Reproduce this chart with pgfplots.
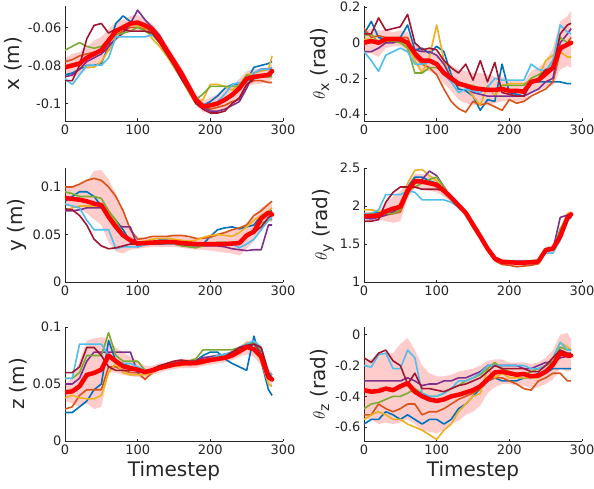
\documentclass[border=0pt]{standalone}
\usepackage{fontspec}
\setmainfont{DejaVu Sans}
\usepackage{pgfplots}
\pgfplotsset{compat=1.18}
\usepackage{pgfplotstable}
\usepgfplotslibrary{fillbetween}
\definecolor{mb}{rgb}{0,0.447,0.741}
\definecolor{mo}{rgb}{0.850,0.325,0.098}
\definecolor{my}{rgb}{0.929,0.694,0.125}
\definecolor{mp}{rgb}{0.494,0.184,0.556}
\definecolor{mg}{rgb}{0.466,0.674,0.188}
\definecolor{ml}{rgb}{0.301,0.745,0.933}
\definecolor{mr}{rgb}{0.635,0.078,0.184}
\definecolor{axgray}{rgb}{0.15,0.15,0.15}

% x (m)
\pgfplotstableread{
t b o y p g l r m lo hi
0 -0.085 -0.078 -0.080 -0.086 -0.072 -0.087 -0.088 -0.081 -0.086 -0.076
10 -0.084 -0.077 -0.080 -0.085 -0.070 -0.090 -0.088 -0.080 -0.086 -0.074
20 -0.082 -0.075 -0.080 -0.082 -0.068 -0.085 -0.080 -0.079 -0.085 -0.073
30 -0.080 -0.074 -0.081 -0.078 -0.070 -0.080 -0.066 -0.076 -0.082 -0.070
40 -0.080 -0.073 -0.081 -0.076 -0.071 -0.080 -0.059 -0.074 -0.081 -0.067
50 -0.079 -0.073 -0.078 -0.074 -0.070 -0.080 -0.058 -0.072 -0.079 -0.065
60 -0.070 -0.072 -0.072 -0.070 -0.066 -0.076 -0.063 -0.067 -0.073 -0.061
70 -0.058 -0.064 -0.063 -0.066 -0.064 -0.065 -0.061 -0.062 -0.067 -0.057
80 -0.054 -0.062 -0.061 -0.063 -0.063 -0.065 -0.061 -0.060 -0.064 -0.056
90 -0.057 -0.060 -0.059 -0.058 -0.062 -0.065 -0.062 -0.058 -0.062 -0.054
100 -0.058 -0.060 -0.059 -0.051 -0.060 -0.065 -0.062 -0.0575 -0.0615 -0.0535
110 -0.060 -0.061 -0.060 -0.056 -0.062 -0.065 -0.062 -0.059 -0.062 -0.056
120 -0.062 -0.063 -0.066 -0.060 -0.064 -0.064 -0.063 -0.061 -0.064 -0.058
130 -0.066 -0.067 -0.070 -0.064 -0.068 -0.067 -0.068 -0.066 -0.069 -0.063
140 -0.072 -0.073 -0.075 -0.071 -0.074 -0.073 -0.074 -0.072 -0.075 -0.069
150 -0.080 -0.079 -0.081 -0.077 -0.080 -0.079 -0.080 -0.078 -0.081 -0.075
160 -0.086 -0.085 -0.087 -0.084 -0.086 -0.086 -0.087 -0.084 -0.087 -0.081
170 -0.093 -0.092 -0.094 -0.090 -0.092 -0.093 -0.093 -0.091 -0.094 -0.088
180 -0.099 -0.099 -0.100 -0.097 -0.098 -0.099 -0.100 -0.098 -0.101 -0.095
190 -0.101 -0.102 -0.098 -0.102 -0.095 -0.100 -0.103 -0.1015 -0.1045 -0.0985
200 -0.099 -0.103 -0.090 -0.104 -0.091 -0.101 -0.105 -0.101 -0.105 -0.097
210 -0.096 -0.102 -0.090 -0.104 -0.091 -0.099 -0.105 -0.100 -0.105 -0.095
220 -0.092 -0.101 -0.091 -0.103 -0.091 -0.095 -0.104 -0.098 -0.103 -0.093
230 -0.090 -0.099 -0.093 -0.101 -0.091 -0.090 -0.100 -0.0955 -0.1005 -0.0905
240 -0.090 -0.098 -0.090 -0.099 -0.091 -0.089 -0.097 -0.092 -0.097 -0.087
250 -0.088 -0.090 -0.085 -0.092 -0.085 -0.089 -0.090 -0.087 -0.091 -0.083
260 -0.081 -0.088 -0.084 -0.084 -0.086 -0.084 -0.087 -0.086 -0.090 -0.082
270 -0.080 -0.088 -0.083 -0.082 -0.086 -0.082 -0.086 -0.0855 -0.0895 -0.0815
280 -0.079 -0.089 -0.082 -0.082 -0.086 -0.082 -0.085 -0.085 -0.089 -0.081
285 -0.078 -0.089 -0.075 -0.082 -0.086 -0.081 -0.085 -0.083 -0.087 -0.079
}\tA

% theta_x (rad)
\pgfplotstableread{
t b o y p g l r m lo hi
0 0.05 0.08 0.02 -0.05 0.04 -0.05 0.05 0.00 -0.06 0.06
10 0.12 0.03 0.02 -0.05 0.05 -0.10 0.05 0.01 -0.06 0.08
20 0.03 0.04 0.00 -0.03 0.00 -0.16 0.14 0.00 -0.08 0.07
30 0.02 0.03 0.00 0.00 0.01 -0.07 0.07 0.02 -0.03 0.07
40 0.02 0.03 0.01 0.00 0.01 -0.05 0.08 0.02 -0.02 0.06
50 0.03 0.03 0.00 0.01 0.00 -0.03 0.09 0.02 -0.02 0.07
60 0.10 0.03 -0.02 0.00 -0.03 -0.05 0.16 0.00 -0.05 0.06
70 -0.04 -0.08 -0.10 -0.04 -0.17 -0.12 0.00 -0.06 -0.12 0.00
80 -0.03 -0.12 -0.17 -0.05 -0.17 -0.12 -0.04 -0.10 -0.16 -0.04
90 -0.06 -0.14 -0.08 -0.05 -0.14 -0.11 -0.03 -0.10 -0.16 -0.03
100 -0.02 -0.18 0.10 -0.07 -0.14 -0.12 -0.04 -0.12 -0.18 -0.06
110 -0.05 -0.26 -0.10 -0.12 -0.16 -0.18 -0.10 -0.17 -0.23 -0.10
120 -0.18 -0.33 -0.20 -0.20 -0.20 -0.22 -0.14 -0.20 -0.27 -0.13
130 -0.26 -0.37 -0.22 -0.22 -0.24 -0.28 -0.17 -0.23 -0.32 -0.15
140 -0.27 -0.39 -0.25 -0.25 -0.24 -0.26 -0.12 -0.24 -0.34 -0.16
150 -0.30 -0.33 -0.30 -0.28 -0.24 -0.27 -0.21 -0.255 -0.35 -0.17
160 -0.38 -0.35 -0.35 -0.29 -0.26 -0.28 -0.10 -0.26 -0.35 -0.17
170 -0.32 -0.34 -0.24 -0.30 -0.26 -0.25 -0.22 -0.265 -0.35 -0.18
180 -0.33 -0.36 -0.30 -0.30 -0.27 -0.20 -0.11 -0.265 -0.34 -0.19
190 -0.12 -0.38 -0.24 -0.30 -0.24 -0.21 -0.28 -0.26 -0.33 -0.19
200 -0.28 -0.32 -0.23 -0.30 -0.24 -0.21 -0.29 -0.27 -0.33 -0.21
210 -0.29 -0.34 -0.23 -0.30 -0.24 -0.21 -0.30 -0.27 -0.33 -0.21
220 -0.30 -0.33 -0.23 -0.30 -0.24 -0.21 -0.30 -0.275 -0.33 -0.22
230 -0.22 -0.30 -0.22 -0.28 -0.20 -0.12 -0.22 -0.22 -0.28 -0.16
240 -0.22 -0.28 -0.20 -0.26 -0.18 -0.15 -0.20 -0.21 -0.27 -0.14
250 -0.22 -0.26 -0.10 -0.22 -0.16 -0.16 -0.15 -0.175 -0.25 -0.10
260 -0.22 -0.22 -0.07 -0.20 -0.10 -0.10 -0.15 -0.14 -0.24 -0.03
270 -0.22 -0.05 -0.05 0.00 0.03 0.10 0.05 -0.03 -0.15 0.12
280 -0.23 0.00 -0.08 0.05 0.00 0.06 0.10 -0.01 -0.13 0.15
285 -0.23 0.03 -0.08 0.08 0.00 0.05 0.11 0.00 -0.14 0.18
}\tB

% y (m)
\pgfplotstableread{
t b o y p g l r m lo hi
0 0.085 0.100 0.075 0.075 0.095 0.082 0.077 0.0884 0.080 0.100
10 0.090 0.100 0.078 0.075 0.093 0.080 0.076 0.0875 0.079 0.101
20 0.095 0.103 0.080 0.076 0.090 0.078 0.070 0.0866 0.077 0.102
30 0.095 0.107 0.080 0.078 0.090 0.065 0.060 0.085 0.072 0.106
40 0.090 0.109 0.080 0.078 0.090 0.055 0.045 0.0825 0.066 0.117
50 0.080 0.107 0.080 0.078 0.088 0.055 0.038 0.081 0.060 0.118
60 0.070 0.100 0.075 0.070 0.075 0.055 0.035 0.0686 0.042 0.108
70 0.065 0.090 0.062 0.060 0.065 0.035 0.036 0.058 0.032 0.093
80 0.055 0.075 0.050 0.058 0.050 0.037 0.038 0.049 0.030 0.072
90 0.042 0.055 0.044 0.058 0.042 0.037 0.040 0.044 0.034 0.056
100 0.040 0.045 0.042 0.037 0.040 0.037 0.040 0.0405 0.035 0.047
110 0.042 0.046 0.043 0.040 0.042 0.039 0.040 0.041 0.036 0.047
120 0.042 0.048 0.045 0.040 0.042 0.040 0.040 0.0415 0.037 0.047
130 0.044 0.048 0.046 0.040 0.041 0.041 0.041 0.042 0.037 0.048
140 0.044 0.048 0.046 0.040 0.040 0.040 0.041 0.042 0.037 0.048
150 0.043 0.049 0.045 0.040 0.040 0.040 0.041 0.042 0.037 0.049
160 0.042 0.049 0.044 0.039 0.038 0.041 0.040 0.041 0.036 0.048
170 0.041 0.048 0.043 0.038 0.037 0.041 0.039 0.0405 0.035 0.047
180 0.040 0.046 0.044 0.038 0.036 0.040 0.039 0.040 0.034 0.046
190 0.040 0.046 0.047 0.038 0.038 0.040 0.039 0.040 0.034 0.047
200 0.048 0.047 0.049 0.038 0.040 0.040 0.039 0.040 0.033 0.049
210 0.055 0.050 0.050 0.038 0.042 0.039 0.040 0.040 0.032 0.051
220 0.057 0.052 0.049 0.037 0.042 0.040 0.040 0.040 0.031 0.053
230 0.058 0.055 0.048 0.035 0.040 0.040 0.041 0.0405 0.030 0.055
240 0.056 0.057 0.052 0.034 0.042 0.036 0.042 0.041 0.028 0.056
250 0.058 0.060 0.058 0.033 0.048 0.040 0.050 0.049 0.035 0.062
260 0.060 0.070 0.065 0.034 0.055 0.045 0.052 0.053 0.043 0.068
270 0.070 0.075 0.070 0.034 0.062 0.055 0.058 0.067 0.055 0.078
280 0.074 0.082 0.075 0.060 0.065 0.065 0.068 0.073 0.064 0.083
285 0.075 0.085 0.078 0.060 0.066 0.068 0.070 0.071 0.063 0.082
}\tC

% theta_y (rad)
\pgfplotstableread{
t b o y p g l r m lo hi
0 1.88 1.85 1.95 1.84 1.90 1.90 1.80 1.866 1.82 1.92
10 1.90 1.85 1.95 1.83 1.90 1.90 1.80 1.87 1.82 1.92
20 1.92 1.86 1.93 1.85 1.90 1.95 1.82 1.875 1.82 1.94
30 1.92 1.88 1.92 1.88 1.90 2.15 2.05 1.93 1.80 2.05
40 1.93 1.90 1.92 1.92 1.90 2.15 2.18 1.965 1.78 2.12
50 1.95 1.92 1.95 1.98 1.95 2.15 2.25 1.99 1.80 2.20
60 2.25 2.15 2.30 2.22 2.20 2.20 2.25 2.20 2.10 2.30
70 2.38 2.30 2.47 2.30 2.25 2.18 2.25 2.33 2.24 2.42
80 2.38 2.32 2.48 2.35 2.30 2.08 2.22 2.32 2.22 2.42
90 2.33 2.30 2.40 2.46 2.35 2.08 2.22 2.30 2.20 2.40
100 2.30 2.25 2.33 2.40 2.38 2.08 2.22 2.28 2.18 2.38
110 2.22 2.18 2.22 2.25 2.25 2.08 2.20 2.20 2.12 2.28
120 2.12 2.12 2.12 2.10 2.10 2.05 2.10 2.11 2.06 2.16
130 2.02 2.02 2.02 2.00 2.01 1.98 2.00 2.01 1.97 2.05
140 1.93 1.92 1.92 1.90 1.92 1.90 1.90 1.91 1.87 1.95
150 1.75 1.74 1.75 1.75 1.75 1.72 1.72 1.755 1.72 1.79
160 1.62 1.58 1.60 1.60 1.60 1.58 1.58 1.60 1.56 1.64
170 1.45 1.42 1.44 1.44 1.44 1.45 1.43 1.44 1.40 1.48
180 1.32 1.28 1.31 1.31 1.30 1.32 1.30 1.31 1.28 1.34
190 1.28 1.23 1.26 1.26 1.25 1.28 1.25 1.265 1.23 1.30
200 1.27 1.22 1.25 1.26 1.25 1.28 1.25 1.26 1.22 1.29
210 1.27 1.20 1.26 1.25 1.26 1.28 1.24 1.255 1.20 1.29
220 1.27 1.21 1.26 1.25 1.26 1.28 1.24 1.255 1.21 1.29
230 1.27 1.22 1.26 1.26 1.26 1.28 1.25 1.26 1.22 1.29
240 1.28 1.24 1.27 1.27 1.27 1.28 1.26 1.27 1.23 1.30
250 1.44 1.40 1.40 1.42 1.40 1.38 1.40 1.42 1.37 1.46
260 1.43 1.45 1.45 1.42 1.42 1.38 1.44 1.44 1.39 1.48
270 1.62 1.62 1.68 1.85 1.70 1.55 1.60 1.60 1.52 1.68
280 1.88 1.82 1.90 1.88 1.85 1.80 1.82 1.845 1.79 1.90
285 1.90 1.85 1.92 1.90 1.88 1.85 1.86 1.89 1.84 1.94
}\tD

% z (m)
\pgfplotstableread{
t b o y p g l r m lo hi
0 0.025 0.028 0.038 0.050 0.055 0.055 0.060 0.0427 0.035 0.050
10 0.025 0.030 0.040 0.050 0.055 0.055 0.060 0.0435 0.033 0.055
20 0.030 0.040 0.038 0.055 0.060 0.085 0.065 0.048 0.030 0.070
30 0.035 0.045 0.037 0.070 0.075 0.085 0.082 0.058 0.033 0.088
40 0.045 0.045 0.037 0.078 0.075 0.085 0.082 0.0597 0.028 0.090
50 0.050 0.045 0.040 0.078 0.075 0.085 0.075 0.0626 0.030 0.091
60 0.088 0.065 0.060 0.078 0.095 0.075 0.065 0.075 0.060 0.090
70 0.070 0.065 0.068 0.078 0.075 0.070 0.062 0.070 0.060 0.082
80 0.068 0.062 0.060 0.078 0.070 0.068 0.062 0.0655 0.058 0.078
90 0.065 0.060 0.058 0.078 0.070 0.068 0.062 0.064 0.057 0.074
100 0.062 0.060 0.058 0.060 0.070 0.065 0.062 0.0625 0.056 0.070
110 0.060 0.054 0.058 0.062 0.062 0.062 0.060 0.0605 0.055 0.066
120 0.062 0.060 0.060 0.062 0.063 0.062 0.063 0.062 0.058 0.066
130 0.066 0.063 0.064 0.064 0.066 0.064 0.066 0.064 0.060 0.068
140 0.067 0.065 0.065 0.066 0.067 0.066 0.068 0.0655 0.062 0.069
150 0.068 0.066 0.066 0.068 0.068 0.068 0.070 0.067 0.063 0.071
160 0.068 0.068 0.066 0.070 0.069 0.069 0.071 0.068 0.064 0.072
170 0.069 0.068 0.068 0.070 0.070 0.069 0.070 0.068 0.064 0.072
180 0.070 0.067 0.070 0.071 0.072 0.070 0.070 0.0685 0.064 0.073
190 0.075 0.068 0.072 0.073 0.080 0.070 0.071 0.070 0.066 0.074
200 0.078 0.070 0.073 0.074 0.080 0.072 0.072 0.071 0.067 0.075
210 0.078 0.072 0.074 0.075 0.080 0.075 0.073 0.072 0.068 0.076
220 0.072 0.074 0.075 0.076 0.080 0.076 0.074 0.073 0.069 0.077
230 0.068 0.078 0.077 0.078 0.080 0.078 0.078 0.075 0.071 0.079
240 0.065 0.082 0.080 0.080 0.082 0.082 0.082 0.0785 0.074 0.083
250 0.062 0.085 0.086 0.083 0.084 0.085 0.084 0.0825 0.076 0.088
260 0.092 0.085 0.085 0.085 0.086 0.088 0.085 0.0805 0.074 0.088
270 0.070 0.075 0.070 0.078 0.080 0.082 0.082 0.074 0.066 0.084
280 0.045 0.055 0.050 0.060 0.058 0.060 0.060 0.056 0.048 0.063
285 0.040 0.055 0.048 0.058 0.056 0.058 0.055 0.054 0.047 0.060
}\tE

% theta_z (rad)
\pgfplotstableread{
t b o y p g l r m lo hi
0 -0.58 -0.52 -0.55 -0.30 -0.48 -0.20 -0.15 -0.36 -0.55 -0.17
10 -0.55 -0.52 -0.52 -0.30 -0.45 -0.21 -0.18 -0.37 -0.55 -0.16
20 -0.55 -0.45 -0.50 -0.30 -0.44 -0.13 -0.12 -0.365 -0.58 -0.13
30 -0.50 -0.48 -0.52 -0.30 -0.42 -0.12 -0.10 -0.35 -0.57 -0.12
40 -0.52 -0.50 -0.55 -0.30 -0.40 -0.22 -0.17 -0.36 -0.58 -0.12
50 -0.55 -0.48 -0.55 -0.30 -0.40 -0.22 -0.20 -0.335 -0.57 -0.06
60 -0.52 -0.45 -0.58 -0.28 -0.38 -0.10 -0.32 -0.315 -0.55 -0.02
70 -0.55 -0.45 -0.60 -0.30 -0.35 -0.15 -0.25 -0.37 -0.58 -0.10
80 -0.58 -0.52 -0.62 -0.33 -0.38 -0.38 -0.35 -0.40 -0.62 -0.20
90 -0.55 -0.50 -0.65 -0.32 -0.40 -0.40 -0.35 -0.42 -0.63 -0.25
100 -0.55 -0.50 -0.68 -0.32 -0.40 -0.40 -0.36 -0.43 -0.64 -0.27
110 -0.58 -0.48 -0.62 -0.30 -0.38 -0.38 -0.37 -0.42 -0.62 -0.27
120 -0.55 -0.45 -0.58 -0.30 -0.35 -0.35 -0.35 -0.40 -0.58 -0.26
130 -0.48 -0.42 -0.50 -0.28 -0.33 -0.30 -0.33 -0.39 -0.56 -0.24
140 -0.45 -0.40 -0.45 -0.28 -0.30 -0.30 -0.32 -0.375 -0.52 -0.23
150 -0.40 -0.38 -0.40 -0.26 -0.28 -0.28 -0.30 -0.36 -0.50 -0.22
160 -0.35 -0.35 -0.38 -0.24 -0.26 -0.25 -0.28 -0.335 -0.46 -0.20
170 -0.30 -0.30 -0.22 -0.20 -0.22 -0.20 -0.24 -0.29 -0.38 -0.17
180 -0.28 -0.28 -0.28 -0.20 -0.18 -0.20 -0.20 -0.245 -0.34 -0.16
190 -0.30 -0.28 -0.25 -0.20 -0.22 -0.20 -0.22 -0.24 -0.32 -0.16
200 -0.30 -0.30 -0.28 -0.20 -0.24 -0.20 -0.22 -0.25 -0.32 -0.18
210 -0.30 -0.32 -0.28 -0.20 -0.25 -0.20 -0.22 -0.26 -0.33 -0.18
220 -0.28 -0.35 -0.28 -0.22 -0.26 -0.20 -0.22 -0.255 -0.33 -0.18
230 -0.28 -0.36 -0.28 -0.22 -0.24 -0.22 -0.24 -0.27 -0.35 -0.19
240 -0.25 -0.30 -0.28 -0.20 -0.22 -0.22 -0.24 -0.265 -0.34 -0.18
250 -0.25 -0.28 -0.25 -0.18 -0.20 -0.20 -0.20 -0.24 -0.32 -0.15
260 -0.22 -0.25 -0.15 -0.18 -0.18 -0.15 -0.15 -0.195 -0.29 -0.10
270 -0.22 -0.25 -0.05 -0.15 -0.08 -0.05 -0.10 -0.12 -0.22 0.00
280 -0.22 -0.30 -0.08 -0.14 -0.10 -0.10 -0.12 -0.135 -0.24 0.01
285 -0.22 -0.30 -0.10 -0.14 -0.10 -0.10 -0.12 -0.135 -0.23 -0.03
}\tF

\pgfplotsset{
  panel/.style={
    scale only axis, width=218pt, anchor=south west,
    xmin=0, xmax=300,
    axis x line*=bottom, axis y line*=left,
    xtick={0,100,200,300}, xticklabels={0,100,200,300},
    tick align=inside, major tick length=2.5pt,
    axis line style={draw=axgray, line width=0.6pt},
    every tick/.style={draw=axgray, line width=0.5pt},
    ticklabel style={font=\fontsize{13}{15}\selectfont, text=axgray},
    label style={font=\fontsize{20}{24}\selectfont, text=axgray},
    ylabel style={yshift=-1pt},
  },
  traj/.style={line width=1.6pt, line join=round},
}

\newcommand\drawset[2]{%
  \addplot[draw=none, name path=lo#2, forget plot] table[x=t,y=lo]{#1};
  \addplot[draw=none, name path=hi#2, forget plot] table[x=t,y=hi]{#1};
  \addplot[fill=red, fill opacity=0.2, draw=none, forget plot] fill between[of=lo#2 and hi#2];
  \addplot[traj, mb] table[x=t,y=b]{#1};
  \addplot[traj, mo] table[x=t,y=o]{#1};
  \addplot[traj, my] table[x=t,y=y]{#1};
  \addplot[traj, mp] table[x=t,y=p]{#1};
  \addplot[traj, mg] table[x=t,y=g]{#1};
  \addplot[traj, ml] table[x=t,y=l]{#1};
  \addplot[traj, mr] table[x=t,y=r]{#1};
  \addplot[red, line width=4.5pt, line join=round, line cap=round] table[x=t,y=m]{#1};
}

\newcommand\thlabel[1]{{\fontsize{16}{16}\selectfont$\theta$}\raisebox{-4pt}{\fontsize{14}{14}\selectfont #1}\ (rad)}

\begin{document}
\begin{tikzpicture}

\begin{axis}[panel, at={(65pt,367pt)}, height=115pt,
  ymin=-0.1092, ymax=-0.0488,
  ytick={-0.1,-0.08,-0.06}, yticklabels={-0.1,-0.08,-0.06},
  ylabel={x (m)}]
\drawset{\tA}{A}
\end{axis}

\begin{axis}[panel, at={(364pt,367pt)}, height=115pt,
  ymin=-0.44, ymax=0.207,
  ytick={-0.4,-0.2,0,0.2}, yticklabels={-0.4,-0.2,0,0.2},
  ylabel={\thlabel{x}}]
\drawset{\tB}{B}
\end{axis}

\begin{axis}[panel, at={(65pt,206pt)}, height=114pt,
  ymin=0, ymax=0.12,
  ytick={0,0.05,0.1}, yticklabels={0,0.05,0.1},
  ylabel={y (m)}]
\drawset{\tC}{C}
\end{axis}

\begin{axis}[panel, at={(364pt,206pt)}, height=114pt,
  ymin=1, ymax=2.5,
  ytick={1,1.5,2,2.5}, yticklabels={1,1.5,2,2.5},
  ylabel={\thlabel{y}}]
\drawset{\tD}{D}
\end{axis}

\begin{axis}[panel, at={(65pt,47pt)}, height=114pt,
  ymin=0, ymax=0.1,
  ytick={0,0.05,0.1}, yticklabels={0,0.05,0.1},
  ylabel={z (m)}, xlabel={Timestep}]
\drawset{\tE}{E}
\end{axis}

\begin{axis}[panel, at={(364pt,47pt)}, height=114pt,
  ymin=-0.69, ymax=0.05,
  ytick={-0.6,-0.4,-0.2,0}, yticklabels={-0.6,-0.4,-0.2,0},
  ylabel={\thlabel{z}}, xlabel={Timestep}]
\drawset{\tF}{F}
\end{axis}

\pgfresetboundingbox
\useasboundingbox (0pt,0pt) rectangle (594pt,488pt);
\end{tikzpicture}
\end{document}
